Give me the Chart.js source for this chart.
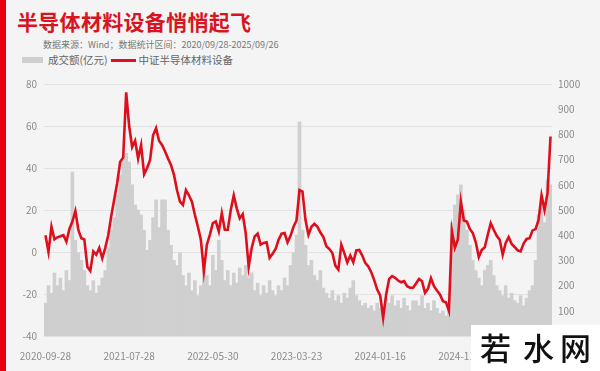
<!DOCTYPE html>
<html>
<head>
<meta charset="utf-8">
<script src="https://cdn.jsdelivr.net/npm/chart.js@4.4.1/dist/chart.umd.min.js"></script>
<style>
  html, body { margin:0; padding:0; }
  body { width:600px; height:371px; overflow:hidden; position:relative; background:#f4f4f4;
         font-family:'Noto Sans CJK SC','Noto Sans',sans-serif; }
  #redbar { position:absolute; left:0; top:0; width:6px; height:371px; background:#e60012; }
  #title { position:absolute; left:17px; top:11px; font-size:21px; line-height:21px; font-weight:700; color:#d7141f; letter-spacing:0.3px; }
  #sub { position:absolute; left:43px; top:40px; font-size:9px; line-height:10px; color:#777; white-space:nowrap; }
  #legend { position:absolute; left:22px; top:54px; font-size:10.5px; line-height:12px; color:#666; white-space:nowrap; display:flex; align-items:center; }
  #legend .box { width:21px; height:6px; background:#cfcfcf; margin-right:5px; }
  #legend .ln { width:25px; height:3px; background:#e0101e; margin:0 3px 0 3px; }
  canvas { position:absolute; left:0; top:0; }
  #wm { position:absolute; left:471px; top:325px; width:129px; height:46px; background:#ffffff; }
  #wm span { position:absolute; top:6px; font-size:31px; line-height:31px; color:#111; font-weight:500; }
</style>
</head>
<body>
<div id="redbar"></div>
<div id="title">半导体材料设备悄悄起飞</div>
<div id="sub">数据来源：Wind；数据统计区间：2020/09/28-2025/09/26</div>
<div id="legend"><span class="box"></span><span>成交额(亿元)</span><span class="ln"></span><span>中证半导体材料设备</span></div>
<canvas id="c" width="600" height="371"></canvas>
<div id="wm"><span style="left:9px">若</span><span style="left:52px">水</span><span style="left:89px">网</span></div>
<script>
// X-axis tick labels (one every 28 sampled points)
const tickLabels = ['2020-09-28','2021-07-28','2022-05-30','2023-03-23','2024-01-16','2024-11-22'];

// 中证半导体材料设备 cumulative change (%), left axis
const indexChange = [
  8, 0, 12, 6, 7, 7.5, 8, 5, 11, 14.5,
  19.5, 10.5, 6.5, 6, -7, -9, 0.3, -1.3, 2, -3,
  2, 8, 17, 25, 33, 43, 45, 76, 60, 50,
  53, 44.5, 51, 37, 40, 43.8, 55.6, 59, 53, 51,
  48, 44.5, 41.4, 36.7, 29.5, 24, 22.4, 29.5, 27, 24,
  17.7, 12, 5.8, -9, 3.5, 8.2, 13.7, 14.5, 9.8, 18.5,
  10.6, 10.6, 20, 27, 20.8, 16, 18, 9, -7, 1.9,
  7.4, 8.7, 3.5, 4.3, 4.6, -2.8, -0.8, 1.4, 5.8, 8.7,
  9, 4.6, 7.7, 12, 15, 29.5, 28.8, 15.3, 8.2, 12,
  13.4, 12, 9.3, 7.1, 2.7, 1.4, -0.5, -6.5, -8.4, 3.5,
  -0.5, -5, -1.7, -4.9, 0.8, 1, -1.7, -5.2, -6.8, -9.6,
  -13.4, -17.9, -20.7, -31.3, -20.2, -12.8, -11.5, -12.3, -13.6, -14.4,
  -13.9, -16.3, -17, -17, -15, -12.8, -13.9, -19.4, -17.5, -12.5,
  -16.3, -18.3, -20.2, -23.4, -23.9, -28, 10, 2, 6, 24,
  15, 14.5, 11, 9, 4.6, -2.4, 1, 2.2, 8.2, 13.7,
  10.6, 7.7, 5.8, -1.3, 4.3, 7.1, 3.8, 2.4, 0.8, 0.3,
  4, 6.2, 6.6, 10.3, 10.9, 15.3, 27, 20, 28, 55
];

// 成交额 (亿元), right axis
const turnover = [
  130,200,170,250,200,230,180,260,220,650,
  380,330,300,260,200,180,220,170,200,230,
  260,350,420,470,560,640,700,725,690,600,
  520,500,480,420,340,380,470,540,430,540,
  540,420,360,300,280,330,240,200,250,180,
  220,160,200,280,240,200,320,260,380,300,
  220,260,200,250,210,270,240,280,230,250,
  180,210,160,200,170,220,180,160,200,180,
  230,200,280,330,400,850,420,360,280,300,
  240,220,260,190,170,150,180,140,160,130,
  170,150,190,220,160,140,120,130,110,120,
  100,130,110,90,150,130,160,120,140,110,
  150,120,100,140,140,120,160,110,130,100,
  140,110,90,100,80,110,450,520,560,600,
  500,420,360,300,260,230,200,260,280,300,
  240,200,180,160,200,150,170,140,130,160,
  120,150,180,200,300,480,560,450,620,600
];

const TICK_EVERY = 28;
const categories = indexChange.map((_, i) => (i % TICK_EVERY === 0 ? (tickLabels[i / TICK_EVERY] || '') : ''));

const tickFont = { family: "'Noto Sans CJK SC','Noto Sans',sans-serif", size: 10 };
const tickColor = '#8a8a8a';

new Chart(document.getElementById('c'), {
  type: 'bar',
  data: {
    labels: categories,
    datasets: [
      {
        type: 'line',
        label: '中证半导体材料设备',
        data: indexChange,
        yAxisID: 'y',
        borderColor: '#de0f1d',
        borderWidth: 2.6,
        pointRadius: 0,
        tension: 0,
        order: 0
      },
      {
        type: 'bar',
        label: '成交额(亿元)',
        data: turnover,
        yAxisID: 'y1',
        backgroundColor: '#cfcfcf',
        borderWidth: 0,
        barPercentage: 1,
        categoryPercentage: 1,
        order: 1
      }
    ]
  },
  options: {
    responsive: false,
    devicePixelRatio: 1,
    animation: false,
    layout: { padding: { top: 84, left: 0, right: 0, bottom: 0 } },
    plugins: { legend: { display: false }, tooltip: { enabled: false }, title: { display: false } },
    scales: {
      x: {
        offset: true,
        grid: { display: false },
        border: { display: false },
        ticks: {
          autoSkip: false, maxRotation: 0, minRotation: 0, padding: 6,
          color: tickColor, font: tickFont,
          callback: (v, i) => categories[i]
        },
        afterFit: s => { s.height = 35; }
      },
      y: {
        position: 'left',
        min: -40, max: 80,
        ticks: { stepSize: 20, color: tickColor, font: tickFont, padding: 7, callback: v => String(v) },
        grid: { color: '#e2e2e2', drawTicks: false, lineWidth: 1 },
        border: { display: false },
        afterFit: s => { s.width = 44; }
      },
      y1: {
        position: 'right',
        min: 0, max: 1000,
        ticks: { stepSize: 100, color: tickColor, font: tickFont, padding: 6, callback: v => String(v) },
        grid: { display: false, drawTicks: false },
        border: { display: false },
        afterFit: s => { s.width = 48; }
      }
    }
  }
});
</script>
</body>
</html>
